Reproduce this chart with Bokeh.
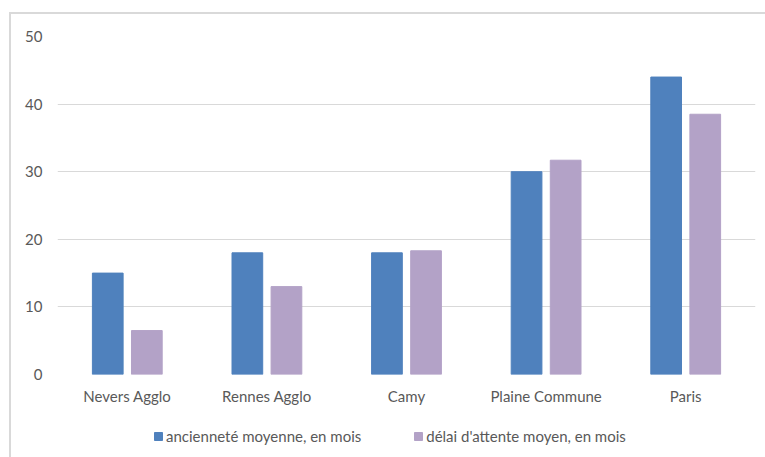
from bokeh.plotting import figure
from bokeh.layouts import column
from bokeh.models import FactorRange, Range1d, Legend, LegendItem, ColumnDataSource
from bokeh.transform import dodge
from bokeh.embed import file_html
from bokeh.resources import INLINE

# Données
territoires = ["Nevers Agglo", "Rennes Agglo", "Camy", "Plaine Commune", "Paris"]
anciennete = [15, 18, 18, 30, 44]          # ancienneté moyenne, en mois
delai = [6.5, 13, 18.3, 31.7, 38.5]        # délai d'attente moyen, en mois
y_ticks = [0, 10, 20, 30, 40, 50]
series_labels = ["ancienneté moyenne, en mois", "délai d'attente moyen, en mois"]

FONT = "Lato"
FONT_SIZE = "15px"
TEXT_COLOR = "#595959"
GRID_COLOR = "#d9d9d9"
BLUE = "#4f81bd"
PURPLE = "#b3a2c7"

source = ColumnDataSource(dict(territoire=territoires, anciennete=anciennete, delai=delai))

# Graphique principal
p = figure(
    x_range=FactorRange(factors=territoires, range_padding=0),
    y_range=Range1d(0, 50),
    width=754, height=396,
    output_backend="svg", toolbar_location=None,
    min_border_left=46, min_border_right=10,
    min_border_top=22, min_border_bottom=36,
)
p.outline_line_color = None
p.background_fill_color = "white"
p.border_fill_color = "white"

p.vbar(x=dodge("territoire", -0.14, range=p.x_range), top="anciennete", width=0.22,
       source=source, fill_color=BLUE, line_color=BLUE)
p.vbar(x=dodge("territoire", 0.14, range=p.x_range), top="delai", width=0.22,
       source=source, fill_color=PURPLE, line_color=PURPLE)

p.yaxis.ticker = y_ticks
for ax in (p.xaxis[0], p.yaxis[0]):
    ax.axis_line_color = None
    ax.major_tick_line_color = None
    ax.minor_tick_line_color = None
    ax.major_tick_in = 0
    ax.major_tick_out = 0
    ax.minor_tick_out = 0
    ax.major_label_text_color = TEXT_COLOR
    ax.major_label_text_font = FONT
    ax.major_label_text_font_size = FONT_SIZE
p.yaxis.major_label_standoff = 15
p.xaxis.major_label_standoff = 12

p.xgrid.grid_line_color = None
p.ygrid.grid_line_color = GRID_COLOR
p.ygrid.grid_line_width = 1

# Bandeau de légende sous le graphique : mêmes séries, hors de la plage visible,
# seules leurs pastilles de légende apparaissent
q = figure(
    x_range=p.x_range, y_range=Range1d(100, 101),
    width=754, height=47,
    output_backend="svg", toolbar_location=None,
    x_axis_type=None, y_axis_type=None,
    min_border=0,
)
q.outline_line_color = None
q.xgrid.grid_line_color = None
q.ygrid.grid_line_color = None
q.background_fill_color = "white"
q.border_fill_color = "white"

k1 = q.vbar(x=dodge("territoire", -0.14, range=q.x_range), top="anciennete", width=0.22,
            source=source, fill_color=BLUE, line_color=BLUE)
k2 = q.vbar(x=dodge("territoire", 0.14, range=q.x_range), top="delai", width=0.22,
            source=source, fill_color=PURPLE, line_color=PURPLE)

legend = Legend(
    items=[LegendItem(label=series_labels[0], renderers=[k1]),
           LegendItem(label=series_labels[1], renderers=[k2])],
    orientation="horizontal",
    location=(96, 12),
    padding=0, margin=0, spacing=52,
    glyph_width=10, glyph_height=10, label_standoff=3,
    label_text_font=FONT, label_text_font_size=FONT_SIZE, label_text_color=TEXT_COLOR,
    border_line_color=None, background_fill_alpha=0,
)
q.add_layout(legend)

layout = column(p, q, spacing=0)
layout.margin = (12, 0, 0, 9)
layout.styles = {"border-left": "2px solid #d9d9d9", "border-top": "2px solid #d9d9d9"}

open("out.html", "w").write(file_html(layout, INLINE))
